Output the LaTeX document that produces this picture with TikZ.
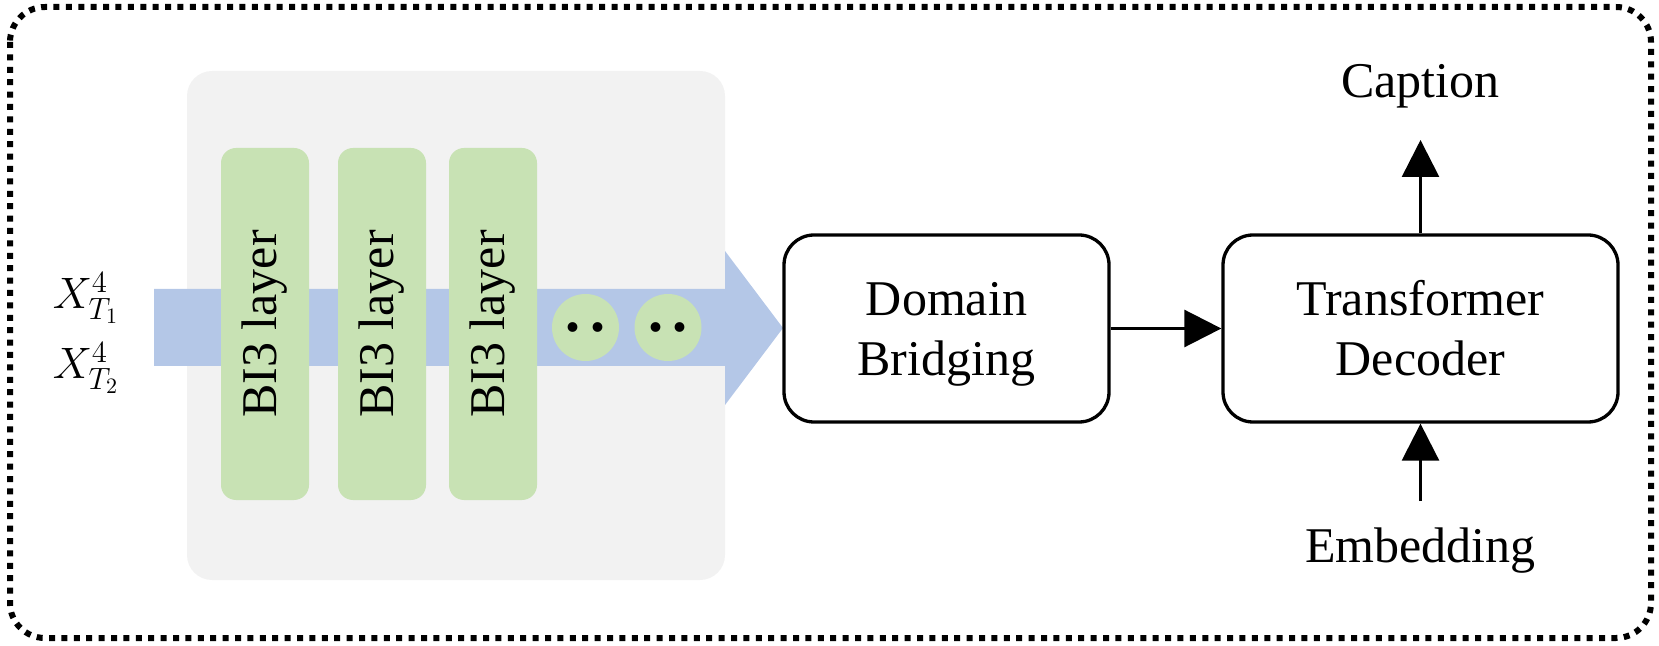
\RequirePackage{fix-cm}
\documentclass[tikz,border=0pt]{standalone}
\usepackage{fontspec}
\setmainfont{Liberation Serif}
\usetikzlibrary{arrows.meta}
\definecolor{grayfill}{HTML}{F2F2F2}
\definecolor{bluefill}{HTML}{B4C7E7}
\definecolor{greenfill}{HTML}{C8E2B4}
\begin{document}
\begin{tikzpicture}[x=0.5pt,y=-0.5pt,
  txt/.style={font=\fontsize{25}{30}\selectfont},
  layerbox/.style={fill=greenfill, rounded corners=7.5pt, rotate=90, minimum width=176pt, minimum height=44pt, inner sep=0pt, txt},
  dotsnode/.style={circle, fill=greenfill, minimum size=33.5pt, inner sep=0pt, font=\fontsize{30}{30}\selectfont\bfseries},
  blockbox/.style={draw, line width=1.65pt, rounded corners=15pt, align=center, txt, inner sep=0pt, minimum height=93.5pt},
  arr/.style={line width=1.35pt, -{Triangle[length=18.5pt,width=18.5pt]}},
  xlab/.style={font=\fontsize{22}{26}\selectfont, inner sep=0pt}
]
\useasboundingbox (0,0) rectangle (1659,646);
\draw[line width=3pt, dash pattern=on 3pt off 3.2pt, rounded corners=17.5pt] (10,7) rectangle (1651,638);
\fill[grayfill, rounded corners=12.5pt] (187,71) rectangle (725,580);
\fill[bluefill] (154,289) -- (725,289) -- (725,251) -- (783,328) -- (725,405) -- (725,366) -- (154,366) -- cycle;

\node[layerbox] (l1) at (265,324) {BI3 layer};
\node[layerbox] (l2) at (382,324) {BI3 layer};
\node[layerbox] (l3) at (493,324) {BI3 layer};
\node[dotsnode] (d1) at (585.5,327.5) {.\hspace{5pt}.};
\node[dotsnode] (d2) at (668,327.5) {.\hspace{5pt}.};

\node[xlab] (x1) at (86,298) {$X^{4}_{T_{1}}$};
\node[xlab] (x2) at (86,368) {$X^{4}_{T_{2}}$};

\node[blockbox, minimum width=162.5pt] (dom) at (946.5,328.5) {Domain\\\smash{Bridging}};
\node[blockbox, minimum width=197.5pt] (dec) at (1420.5,328.5) {Transformer\\Decoder};

\node[txt, anchor=base] (cap) at (1420.5,98) {Caption};
\node[txt, anchor=base] (emb) at (1420.5,562) {Embedding};
\coordinate (captip) at (1420.5,140);
\coordinate (embtail) at (1420.5,501);

\draw[arr] (dec.north) -- (captip);
\draw[arr] (embtail) -- (dec.south);
\draw[arr] (dom.east) -- (dec.west);
\end{tikzpicture}
\end{document}
